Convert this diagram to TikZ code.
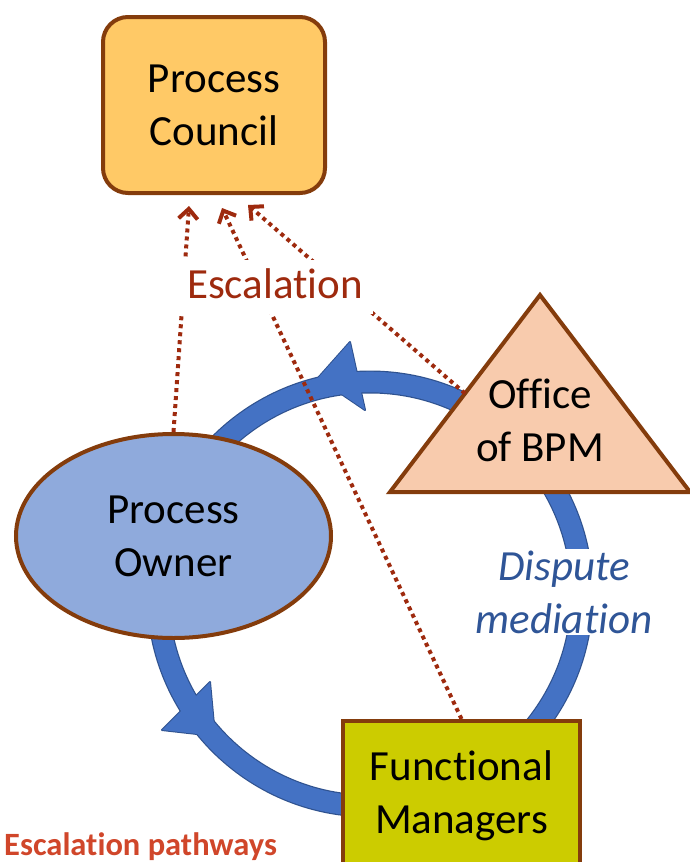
\documentclass[tikz,border=0pt]{standalone}
\usepackage{fontspec}
\setmainfont{Carlito}[Ligatures={NoCommon,NoContextual,NoRequired,NoRare},Contextuals=NoAlternate]
\usetikzlibrary{arrows.meta,calc,shapes.geometric}

\definecolor{edgebrown}{HTML}{843C0C}
\definecolor{councilfill}{HTML}{FFC966}
\definecolor{ownerfill}{HTML}{8FAADC}
\definecolor{bpmfill}{HTML}{F8CBAD}
\definecolor{fmfill}{HTML}{CCCC00}
\definecolor{ringblue}{HTML}{4472C4}
\definecolor{ringedge}{HTML}{2F528F}
\definecolor{escred}{HTML}{9E2A0E}
\definecolor{pathred}{HTML}{D0462A}
\definecolor{disputeblue}{HTML}{2F5597}

\begin{document}
\begin{tikzpicture}[x=1pt, y=-1pt,
	bigtext/.style={font=\fontsize{43}{53}\selectfont, align=center},
	box/.style={bigtext, draw=edgebrown, line width=4pt, inner sep=0pt},
	escline/.style={draw=escred, line width=4pt, dash pattern=on 4pt off 4pt,
		-{Straight Barb[length=10pt,width=19pt]}}]
	%\draw[help lines] (0,0) grid (689,862);
	\useasboundingbox (0,0) rectangle (689,862);

	% the ring and its two heads
	\coordinate (ringc) at (370,594);
	\draw[ringedge, line width=23pt] (ringc) circle[radius=212];
	\draw[ringedge, line width=2pt, line join=round] (350,342) -- (365,410) -- (318,378) -- cycle;
	\draw[ringedge, line width=2pt, line join=round] (210,682) -- (162,730) -- (215,736) -- cycle;
	\draw[ringblue, line width=20.6pt] (ringc) circle[radius=212];
	\fill[ringblue] (350,342) -- (365,410) -- (318,378) -- cycle;
	\fill[ringblue] (210,682) -- (162,730) -- (215,736) -- cycle;

	% shapes
	\node[box, rounded corners=25pt, fill=councilfill, minimum width=222, minimum height=176] (council) at (214,105) {Process\\Council};
	\node[box, ellipse, fill=ownerfill, minimum width=315, minimum height=204] (owner) at (173.5,536) {Process\\Owner};
	\node[box, fill=fmfill, minimum width=237, minimum height=150] (fm) at (461.5,796) {Functional\\Managers};

	\coordinate (bpmT) at (540,295);
	\coordinate (bpmL) at (390,492);
	\coordinate (bpmR) at (690,492);
	\draw[draw=edgebrown, line width=4pt, line join=miter, fill=bpmfill] (bpmT) -- (bpmL) -- (bpmR) -- cycle;
	\node[bigtext] (bpm) at (540,420) {Office\\of BPM};

	\node[bigtext, font=\itshape\fontsize{43}{53}\selectfont, text=disputeblue, fill=white, inner sep=2pt] (dispute) at (564,592) {Dispute\\mediation};

	% escalation
	\coordinate (esc1) at ($(council.south)+(-25,11)$);
	\coordinate (esc2) at ($(council.south)+(8,13)$);
	\coordinate (esc3) at ($(council.south)+(34,10)$);
	\coordinate (bpmedge) at ($(bpmL)!0.5!(bpmT)$);
	\draw[escline] (owner.north) -- (esc1);
	\draw[escline] (fm.north) -- (esc2);
	\draw[escline] (bpmedge) -- (esc3);
	\node[bigtext, text=escred, fill=white, anchor=base, text height=32pt, text depth=10pt, inner xsep=10pt, inner ysep=6pt] (esclabel) at (275,298) {Escalation};

	\node[anchor=base west, inner sep=0pt, font=\bfseries\fontsize{32.5}{38}\selectfont, text=pathred] (legend) at (4,855) {Escalation pathways};
\end{tikzpicture}
\end{document}
